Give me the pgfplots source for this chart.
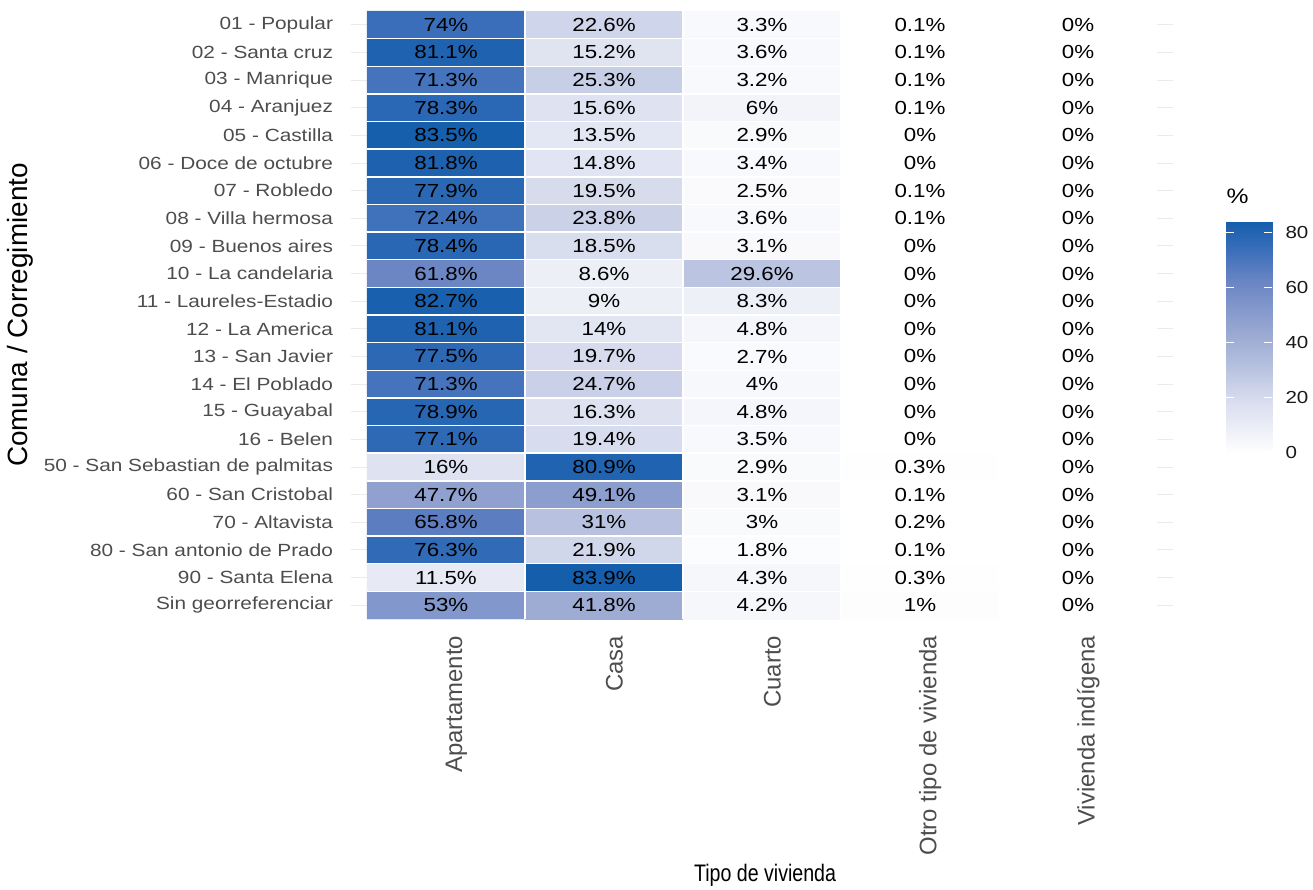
\documentclass[border=0pt]{standalone}
\usepackage{pgfplots}
\usepackage{pgfplotstable}
\pgfplotsset{compat=1.18}
\usepackage{fontspec}
\setmainfont{Liberation Sans}[FakeStretch=1.18]
\newfontfamily\plainfont{Liberation Sans}
\definecolor{axtext}{RGB}{77,77,77}
\definecolor{gridc}{RGB}{235,235,235}

% x: 0 Apartamento, 1 Casa, 2 Cuarto, 3 Otro tipo de vivienda, 4 Vivienda indigena
% y: 0 = 01 - Popular ... 21 = Sin georreferenciar
\pgfplotstableread{
x y v
0 0 74
1 0 22.6
2 0 3.3
3 0 0.1
4 0 0
0 1 81.1
1 1 15.2
2 1 3.6
3 1 0.1
4 1 0
0 2 71.3
1 2 25.3
2 2 3.2
3 2 0.1
4 2 0
0 3 78.3
1 3 15.6
2 3 6
3 3 0.1
4 3 0
0 4 83.5
1 4 13.5
2 4 2.9
3 4 0
4 4 0
0 5 81.8
1 5 14.8
2 5 3.4
3 5 0
4 5 0
0 6 77.9
1 6 19.5
2 6 2.5
3 6 0.1
4 6 0
0 7 72.4
1 7 23.8
2 7 3.6
3 7 0.1
4 7 0
0 8 78.4
1 8 18.5
2 8 3.1
3 8 0
4 8 0
0 9 61.8
1 9 8.6
2 9 29.6
3 9 0
4 9 0
0 10 82.7
1 10 9
2 10 8.3
3 10 0
4 10 0
0 11 81.1
1 11 14
2 11 4.8
3 11 0
4 11 0
0 12 77.5
1 12 19.7
2 12 2.7
3 12 0
4 12 0
0 13 71.3
1 13 24.7
2 13 4
3 13 0
4 13 0
0 14 78.9
1 14 16.3
2 14 4.8
3 14 0
4 14 0
0 15 77.1
1 15 19.4
2 15 3.5
3 15 0
4 15 0
0 16 16
1 16 80.9
2 16 2.9
3 16 0.3
4 16 0
0 17 47.7
1 17 49.1
2 17 3.1
3 17 0.1
4 17 0
0 18 65.8
1 18 31
2 18 3
3 18 0.2
4 18 0
0 19 76.3
1 19 21.9
2 19 1.8
3 19 0.1
4 19 0
0 20 11.5
1 20 83.9
2 20 4.3
3 20 0.3
4 20 0
0 21 53
1 21 41.8
2 21 4.2
3 21 1
4 21 0
}\datatable

\begin{document}
\begin{tikzpicture}
\path[use as bounding box] (0bp,0bp) rectangle (1313bp,890bp);
\begin{axis}[
  at={(351.2bp,268.24bp)}, anchor=south west,
  scale only axis, width=821.6bp, height=613.5bp,
  xmin=-0.6, xmax=4.6, ymin=-0.6, ymax=21.6,
  y dir=reverse,
  axis line style={draw=none},
  xtick style={draw=none},
  ytick style={draw=none},
  ymajorgrids,
  major grid style={gridc, line width=1bp},
  ytick={0,...,21},
  yticklabels={01 - Popular,02 - Santa cruz,03 - Manrique,04 - Aranjuez,05 - Castilla,06 - Doce de octubre,07 - Robledo,08 - Villa hermosa,09 - Buenos aires,10 - La candelaria,11 - Laureles-Estadio,12 - La America,13 - San Javier,14 - El Poblado,15 - Guayabal,16 - Belen,50 - San Sebastian de palmitas,60 - San Cristobal,70 - Altavista,80 - San antonio de Prado,90 - Santa Elena,Sin georreferenciar},
  yticklabel style={font=\fontsize{17.7}{21}\selectfont, text=axtext, anchor=east, inner sep=0pt},
  yticklabel shift=18bp,
  xtick={0.065,1.065,2.065,3.065,4.065},
  xticklabels={Apartamento,Casa,Cuarto,Otro tipo de vivienda,Vivienda indígena},
  xticklabel style={font=\plainfont\fontsize{24}{28}\selectfont, text=axtext, rotate=90, anchor=east, inner sep=0pt},
  xticklabel shift=14bp,
  xlabel={\scalebox{0.82}[1]{Tipo de vivienda}},
  xlabel style={at={(axis description cs:0.5037,-0.4128)}, anchor=center, font=\plainfont\fontsize{24}{28}\selectfont, text=black},
  ylabel={Comuna / Corregimiento},
  ylabel style={at={(axis description cs:-0.4031,0.5)}, anchor=center, font=\plainfont\fontsize{28}{32}\selectfont, text=black},
  colormap={viv}{rgb255(0)=(255,255,255) rgb255(20)=(214,219,237) rgb255(30)=(186,196,225) rgb255(42)=(158,172,212) rgb255(62)=(108,134,196) rgb255(74)=(58,110,186) rgb255(84)=(21,94,172)},
  point meta min=0, point meta max=83.9,
  colorbar,
  colorbar/width=46bp,
  colorbar style={
    at={(parent axis.south east)}, anchor=south west,
    xshift=45bp, yshift=168.8bp,
    scale only axis, width=46bp, height=231bp,
    axis line style={draw=none},
    xtick=\empty,
    ytick={0,20,40,60,80},
    ytick pos=both,
    yticklabel pos=right,
    tick align=inside,
    major tick length=8bp,
    ytick style={draw=white, line width=1.2bp},
    axis on top,
    /pgf/number format/assume math mode=true,
    yticklabel style={font=\fontsize{17.5}{21}\selectfont, text=black!90, anchor=west, inner sep=0pt, xshift=13bp},
    title={\%},
    title style={at={(0,1)}, anchor=south west, inner sep=0pt, yshift=12bp, xshift=0bp, font=\fontsize{21}{25}\selectfont},
  },
]
\addplot[matrix plot*, mesh/cols=5, point meta=explicit] table[x=x, y=y, meta=v] {\datatable};
\pgfplotsinvokeforeach{0.5,1.5,2.5,3.5}{
  \draw[white, line width=1.5bp] (axis cs:#1,-0.5) -- (axis cs:#1,21.5);
}
\pgfplotsinvokeforeach{0.5,1.5,...,20.5}{
  \draw[white, line width=1.5bp] (axis cs:-0.5,#1) -- (axis cs:4.5,#1);
}
\addplot[only marks, mark=none, point meta=explicit,
  nodes near coords={\pgfmathprintnumber[assume math mode=true, fixed, precision=1]{\pgfplotspointmeta}\%},
  nodes near coords align=center,
  every node near coord/.append style={font=\fontsize{19}{22}\selectfont, text=black, anchor=center, inner sep=0pt}]
  table[x=x, y=y, meta=v] {\datatable};
\end{axis}
\end{tikzpicture}
\end{document}
